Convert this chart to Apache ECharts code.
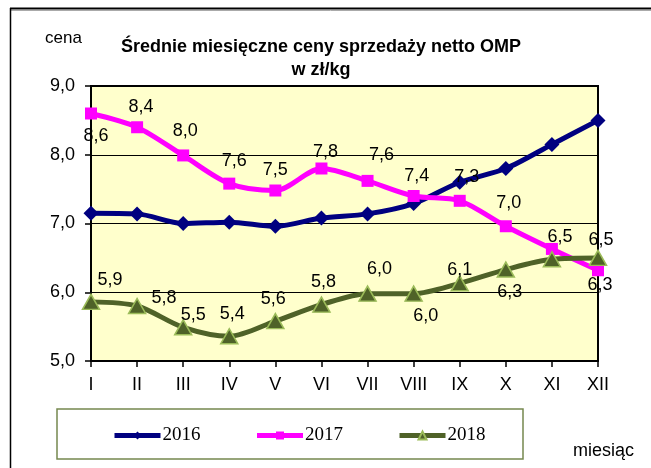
<!DOCTYPE html>
<html>
<head>
<meta charset="utf-8">
<script src="https://cdn.jsdelivr.net/npm/echarts@6/dist/echarts.min.js"></script>
<style>
  html, body { margin: 0; padding: 0; background: #fff; }
  #container { width: 651px; height: 468px; }
</style>
</head>
<body>
<div id="container"></div>
<script>
// miesiące
var months = ['I','II','III','IV','V','VI','VII','VIII','IX','X','XI','XII'];
var seriesNames = ['2016','2017','2018'];
// średnie ceny w zł/kg
var ceny2016 = [7.15, 7.14, 7.0, 7.02, 6.96, 7.08, 7.14, 7.29, 7.6, 7.8, 8.15, 8.5];
var ceny2017 = [8.6, 8.4, 7.99, 7.58, 7.48, 7.8, 7.62, 7.4, 7.33, 6.96, 6.63, 6.32];
var ceny2018 = [5.86, 5.8, 5.49, 5.36, 5.58, 5.82, 5.98, 5.98, 6.13, 6.33, 6.48, 6.5];
var yTicks = [5, 6, 7, 8, 9];

// rozmieszczenie etykiet [pozycja, dx, dy], null = bez etykiety
var lab2017 = [['bottom',5,3],['top',4,0],['top',2,-4],['top',5,-3],['top',0,0],['top',4,4],
               ['top',14,-6],['top',3,0],['top',7,-4],['top',3,-3],null,['bottom',2,-5]];
var lab2018 = [['top',19,0],['right',0,-8],['top',10,10],['top',3,0],['top',-2,0],['top',2,0],
               ['top',12,-2],['bottom',12,0],['top',0,9],['bottom',4,0],['top',8,0],['top',3,4]];

function fmt(v) {
    return v.toFixed(1).replace('.', ',');
}

function withLabels(values, labs) {
    return values.map(function (v, i) {
        var l = labs[i];
        if (!l) return { value: v, label: { show: false } };
        return { value: v, label: { show: true, position: l[0], offset: [l[1], l[2]] } };
    });
}

var labelStyle = {
    show: true,
    fontFamily: 'Liberation Sans, Arial, sans-serif',
    fontSize: 18,
    color: '#000',
    formatter: function (p) { return fmt(p.value); }
};

var myChart = echarts.init(document.getElementById('container'));
var option = {
    animation: false,
    backgroundColor: '#fff',
    title: {
        text: 'Średnie miesięczne ceny sprzedaży netto OMP\nw zł/kg',
        left: 316,
        top: 31,
        textAlign: 'center',
        textStyle: {
            fontFamily: 'Liberation Sans, Arial, sans-serif',
            fontSize: 18,
            fontWeight: 'bold',
            color: '#000',
            lineHeight: 23
        }
    },
    legend: {
        data: seriesNames,
        left: 107,
        top: 421,
        itemWidth: 46,
        itemHeight: 10,
        itemGap: 54,
        lineStyle: { width: 5 },
        textStyle: {
            fontFamily: 'Liberation Serif, Times New Roman, serif',
            fontSize: 19,
            color: '#000',
            padding: [0, 0, 0, -3]
        }
    },
    graphic: [
        { type: 'line', shape: { x1: 10, y1: 8.5, x2: 651, y2: 8.5 }, style: { stroke: '#000', lineWidth: 2 } },
        { type: 'line', shape: { x1: 10, y1: 10.5, x2: 651, y2: 10.5 }, style: { stroke: '#aaa', lineWidth: 1 } },
        { type: 'line', shape: { x1: 10.5, y1: 8, x2: 10.5, y2: 468 }, style: { stroke: '#000', lineWidth: 1.5 } },
        { type: 'rect', z: -1, shape: { x: 57, y: 409, width: 466, height: 50 },
          style: { fill: '#fff', stroke: '#76884f', lineWidth: 1.5 } },
        { type: 'text', left: 45, top: 30, style: { text: 'cena', font: '17px Liberation Sans, Arial, sans-serif', fill: '#000' } },
        { type: 'text', left: 573, top: 442, style: { text: 'miesiąc', font: '18px Liberation Sans, Arial, sans-serif', fill: '#000' } }
    ],
    grid: {
        left: 91,
        right: 53,
        top: 86,
        bottom: 107,
        show: true,
        backgroundColor: '#ffffcc',
        borderColor: '#000',
        borderWidth: 2
    },
    xAxis: {
        type: 'category',
        data: months,
        boundaryGap: false,
        axisLine: { lineStyle: { color: '#000', width: 2 } },
        axisTick: { show: true, length: 6, lineStyle: { color: '#000', width: 1.5 } },
        axisLabel: {
            margin: 15,
            fontFamily: 'Liberation Sans, Arial, sans-serif',
            fontSize: 18,
            color: '#000'
        },
        splitLine: { show: false }
    },
    yAxis: {
        type: 'value',
        min: yTicks[0],
        max: yTicks[yTicks.length - 1],
        interval: 1,
        axisLine: { show: true, lineStyle: { color: '#000', width: 2 } },
        axisTick: { show: true, length: 6, lineStyle: { color: '#000', width: 1.5 } },
        axisLabel: {
            margin: 16,
            fontFamily: 'Liberation Sans, Arial, sans-serif',
            fontSize: 18,
            color: '#000',
            formatter: function (v) { return fmt(v); }
        },
        splitLine: { show: true, lineStyle: { color: '#000', width: 1 } }
    },
    series: [
        {
            name: '2016',
            type: 'line',
            data: ceny2016,
            smooth: 0.3,
            symbol: 'diamond',
            symbolSize: 15,
            lineStyle: { color: '#000080', width: 5 },
            itemStyle: { color: '#000080' },
            label: { show: false }
        },
        {
            name: '2017',
            type: 'line',
            data: withLabels(ceny2017, lab2017),
            smooth: 0.3,
            symbol: 'rect',
            symbolSize: 12,
            lineStyle: { color: '#ff00ff', width: 5 },
            itemStyle: { color: '#ff00ff' },
            label: labelStyle
        },
        {
            name: '2018',
            type: 'line',
            data: withLabels(ceny2018, lab2018),
            smooth: 0.3,
            symbol: 'triangle',
            symbolSize: [17, 15],
            lineStyle: { color: '#4f6228', width: 5 },
            itemStyle: { color: '#4f6228', borderColor: '#9bbb59', borderWidth: 1.5 },
            label: labelStyle
        }
    ]
};
myChart.setOption(option);
</script>
</body>
</html>
